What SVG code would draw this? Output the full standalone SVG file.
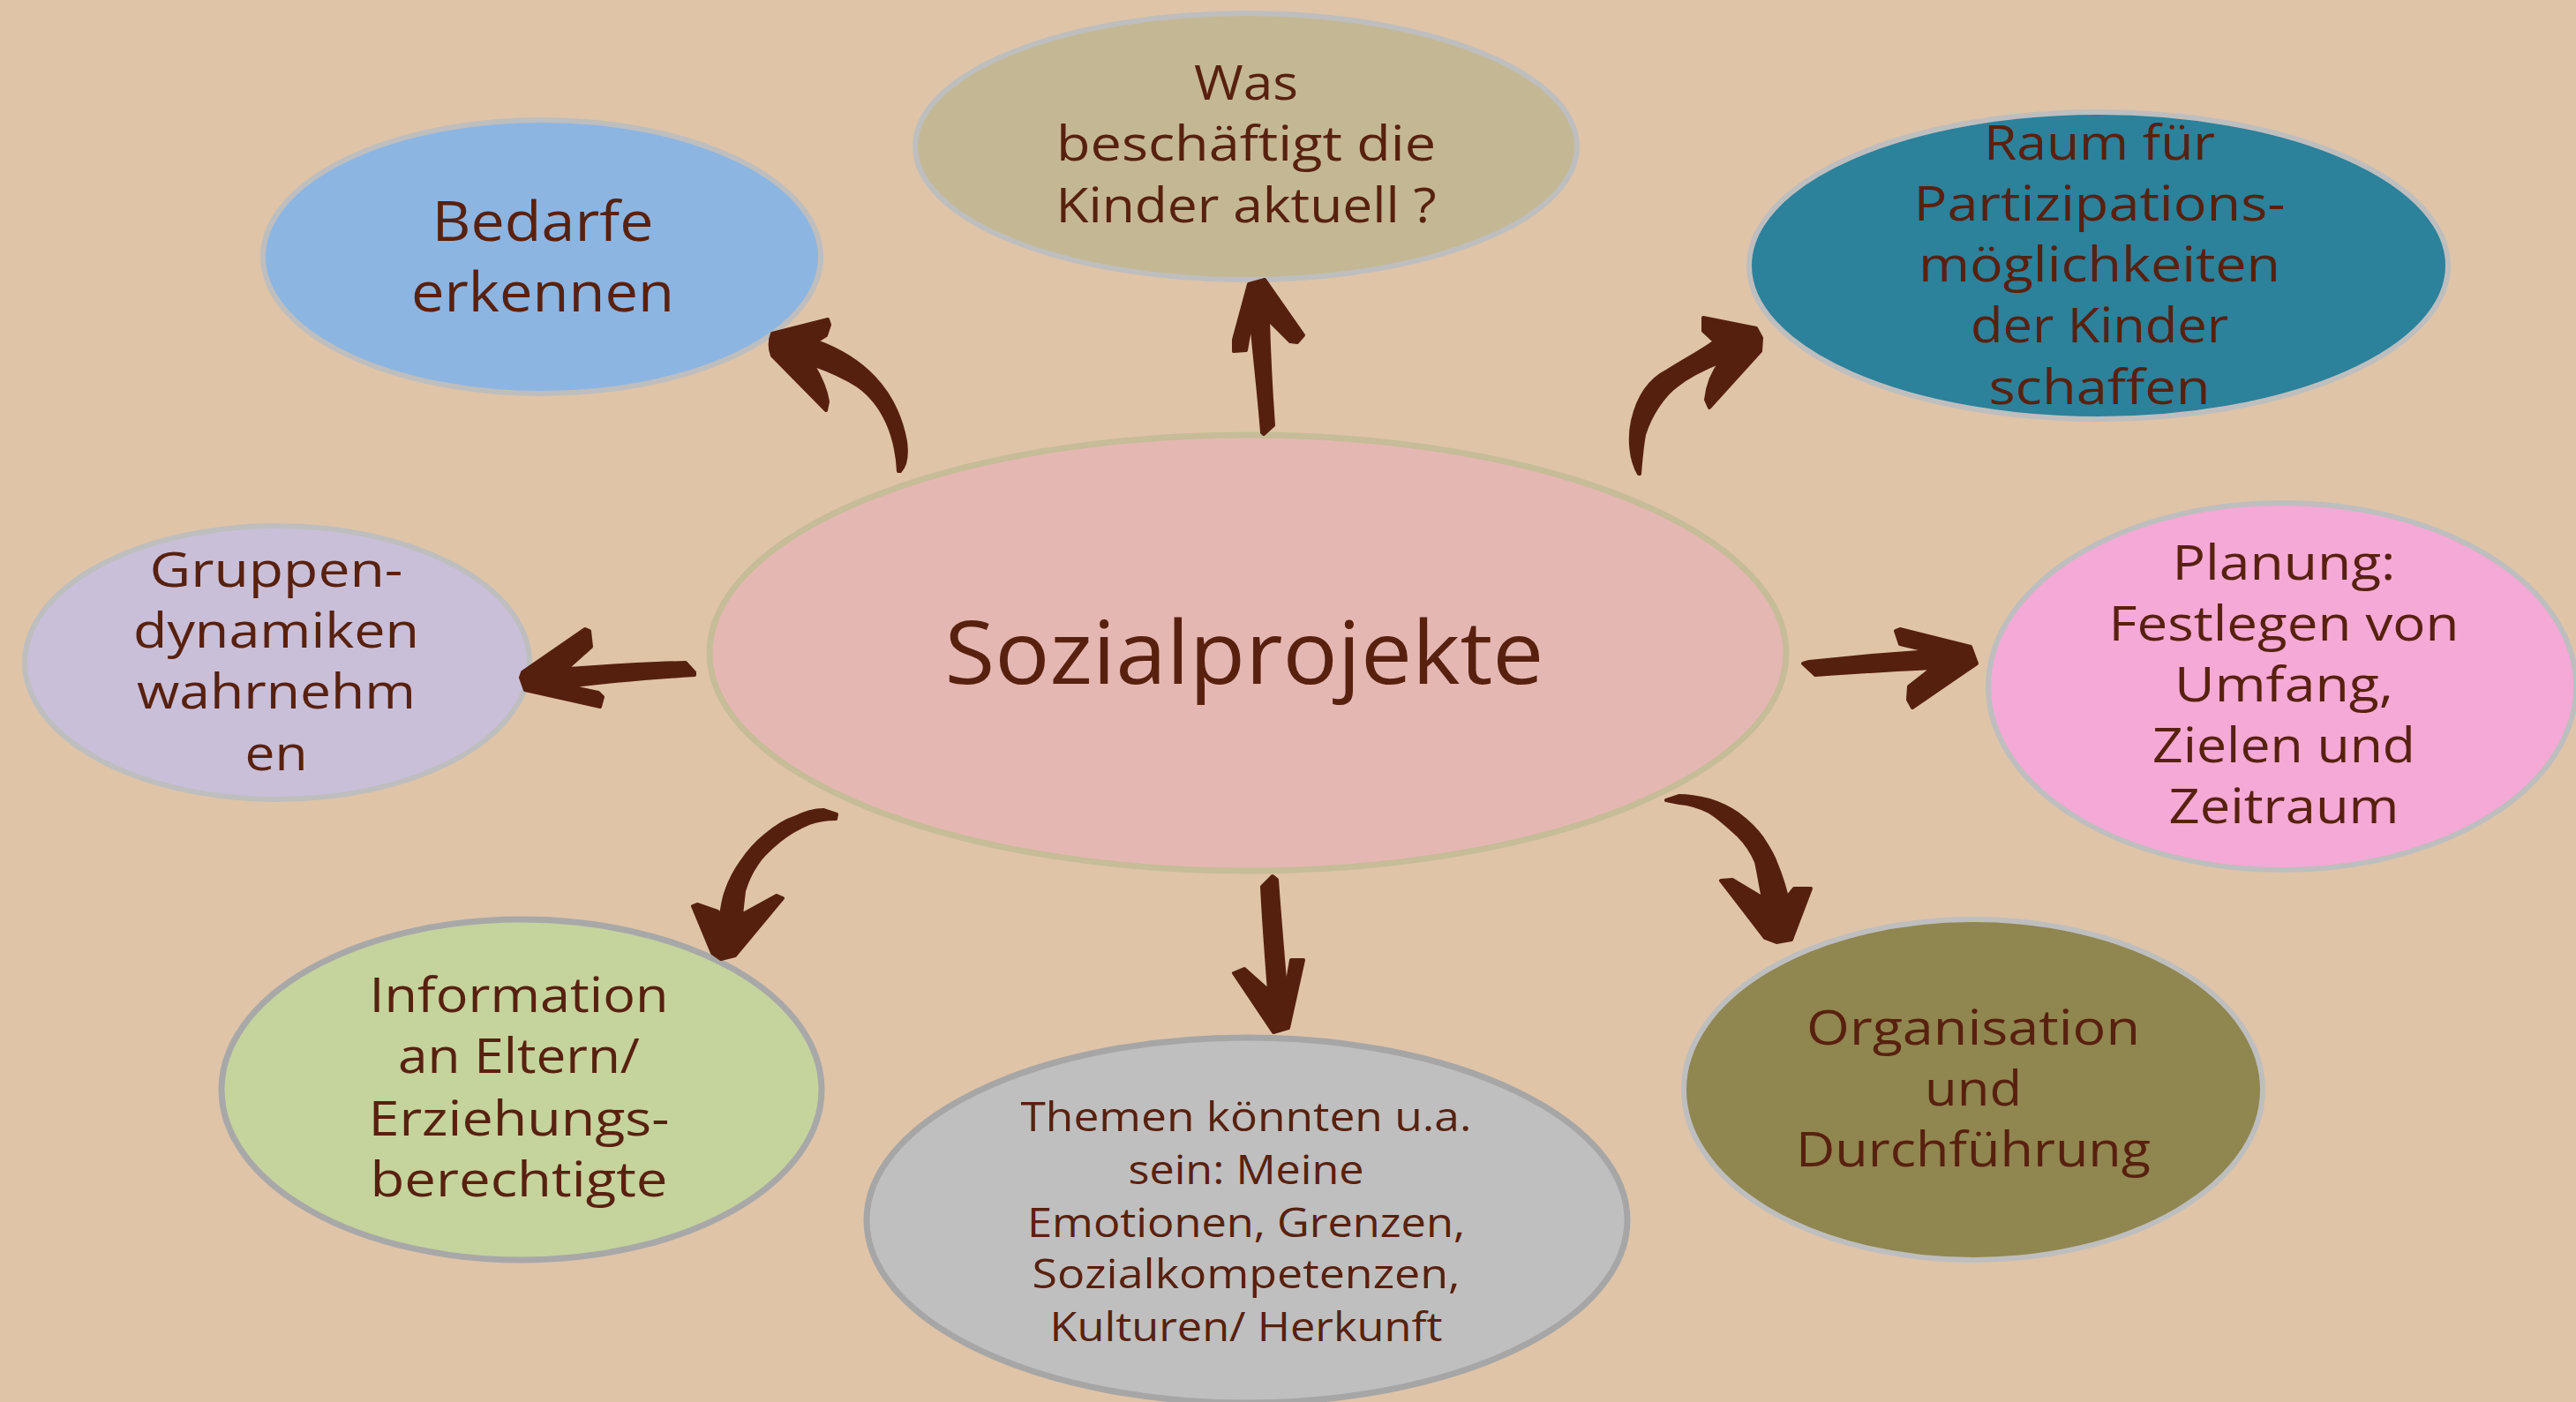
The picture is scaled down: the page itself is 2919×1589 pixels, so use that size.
<svg xmlns="http://www.w3.org/2000/svg" width="2919" height="1589" viewBox="0 0 2919 1589">
<style>
.bg{fill:#DFC4A8}
.node{stroke:#BEBEBE;stroke-width:6}
.t{font-family:"Open Sans","Liberation Sans",sans-serif;fill:#58210F;text-anchor:middle}
.arr{fill:#56200E;stroke:#56200E;stroke-width:4;stroke-linejoin:round}
</style>
<rect class="bg" x="0" y="0" width="2919" height="1589"/>

<g id="node-was">
<ellipse class="node" cx="1412" cy="166" rx="375" ry="151" fill="#C4B894"/>
<text class="t" font-size="54" x="1412" y="113" textLength="118" lengthAdjust="spacingAndGlyphs">Was</text>
<text class="t" font-size="54" x="1412" y="182" textLength="430" lengthAdjust="spacingAndGlyphs">beschäftigt die</text>
<text class="t" font-size="54" x="1412" y="252" textLength="431" lengthAdjust="spacingAndGlyphs">Kinder aktuell ?</text>
</g>

<g id="node-bedarfe">
<ellipse class="node" cx="614" cy="291" rx="316" ry="155" fill="#8CB5E2"/>
<text class="t" font-size="62" x="615" y="273" textLength="251" lengthAdjust="spacingAndGlyphs">Bedarfe</text>
<text class="t" font-size="62" x="615" y="353" textLength="298" lengthAdjust="spacingAndGlyphs">erkennen</text>
</g>

<g id="node-raum">
<ellipse class="node" cx="2378" cy="301" rx="396" ry="174" fill="#2C819B"/>
<text class="t" font-size="54" x="2379" y="181" textLength="262" lengthAdjust="spacingAndGlyphs">Raum für</text>
<text class="t" font-size="54" x="2379" y="250" textLength="421" lengthAdjust="spacingAndGlyphs">Partizipations-</text>
<text class="t" font-size="54" x="2379" y="319" textLength="410" lengthAdjust="spacingAndGlyphs">möglichkeiten</text>
<text class="t" font-size="54" x="2379" y="388" textLength="292" lengthAdjust="spacingAndGlyphs">der Kinder</text>
<text class="t" font-size="54" x="2379" y="458" textLength="251" lengthAdjust="spacingAndGlyphs">schaffen</text>
</g>

<g id="node-gruppen">
<ellipse class="node" cx="314" cy="751" rx="286" ry="155" fill="#C9BFD9"/>
<text class="t" font-size="54" x="313" y="665" textLength="287" lengthAdjust="spacingAndGlyphs">Gruppen-</text>
<text class="t" font-size="54" x="313" y="734" textLength="324" lengthAdjust="spacingAndGlyphs">dynamiken</text>
<text class="t" font-size="54" x="313" y="803" textLength="316" lengthAdjust="spacingAndGlyphs">wahrnehm</text>
<text class="t" font-size="54" x="313" y="873" textLength="71" lengthAdjust="spacingAndGlyphs">en</text>
</g>

<g id="node-center">
<ellipse cx="1414" cy="740" rx="610" ry="247" fill="#E5B7B2" stroke="#C6BC98" stroke-width="7"/>
<text class="t" font-size="98" x="1410" y="775" textLength="679" lengthAdjust="spacingAndGlyphs">Sozialprojekte</text>
</g>

<g id="node-planung">
<ellipse class="node" cx="2586" cy="778" rx="333" ry="208" fill="#F5A9D6"/>
<text class="t" font-size="54" x="2588" y="657" textLength="253" lengthAdjust="spacingAndGlyphs">Planung:</text>
<text class="t" font-size="54" x="2588" y="726" textLength="397" lengthAdjust="spacingAndGlyphs">Festlegen von</text>
<text class="t" font-size="54" x="2588" y="795" textLength="248" lengthAdjust="spacingAndGlyphs">Umfang,</text>
<text class="t" font-size="54" x="2588" y="864" textLength="298" lengthAdjust="spacingAndGlyphs">Zielen und</text>
<text class="t" font-size="54" x="2588" y="933" textLength="261" lengthAdjust="spacingAndGlyphs">Zeitraum</text>
</g>

<g id="node-information">
<ellipse cx="591" cy="1235" rx="340" ry="193" fill="#C5D39D" stroke="#A8A8A8" stroke-width="7"/>
<text class="t" font-size="54" x="588" y="1147" textLength="339" lengthAdjust="spacingAndGlyphs">Information</text>
<text class="t" font-size="54" x="588" y="1216" textLength="274" lengthAdjust="spacingAndGlyphs">an Eltern/</text>
<text class="t" font-size="54" x="588" y="1287" textLength="341" lengthAdjust="spacingAndGlyphs">Erziehungs-</text>
<text class="t" font-size="54" x="588" y="1356" textLength="337" lengthAdjust="spacingAndGlyphs">berechtigte</text>
</g>

<g id="node-themen">
<ellipse cx="1413" cy="1383" rx="431" ry="207" fill="#BFBFBF" stroke="#A6A6A6" stroke-width="7"/>
<text class="t" font-size="45" x="1412" y="1282" textLength="511" lengthAdjust="spacingAndGlyphs">Themen könnten u.a.</text>
<text class="t" font-size="45" x="1412" y="1342" textLength="267" lengthAdjust="spacingAndGlyphs">sein: Meine</text>
<text class="t" font-size="45" x="1412" y="1402" textLength="496" lengthAdjust="spacingAndGlyphs">Emotionen, Grenzen,</text>
<text class="t" font-size="45" x="1412" y="1460" textLength="485" lengthAdjust="spacingAndGlyphs">Sozialkompetenzen,</text>
<text class="t" font-size="45" x="1412" y="1520" textLength="445" lengthAdjust="spacingAndGlyphs">Kulturen/ Herkunft</text>
</g>

<g id="node-organisation">
<ellipse class="node" cx="2236" cy="1235" rx="328" ry="193" fill="#908650"/>
<text class="t" font-size="54" x="2236" y="1184" textLength="378" lengthAdjust="spacingAndGlyphs">Organisation</text>
<text class="t" font-size="54" x="2236" y="1253" textLength="110" lengthAdjust="spacingAndGlyphs">und</text>
<text class="t" font-size="54" x="2236" y="1322" textLength="402" lengthAdjust="spacingAndGlyphs">Durchführung</text>
</g>

<g id="connectors">
<!-- to Bedarfe -->
<path class="arr" d="M1018,534 C1016,495 1002,458 972,437 C955,426 935,418 921,413 C930,428 936,442 938,455 L936,465 L875,403 C872,395 872,386 875,378 L938,362 L940,368 L936,380 L925,387 C975,405 1015,440 1026,500 C1028,515 1026,528 1020,534 Z"/>
<!-- to Was -->
<path class="arr" d="M1415,322 L1433,317 L1477,380 L1470,388 L1462,387 L1437,362 C1438,400 1440,440 1443,482 L1432,492 L1430,490 C1426,440 1421,400 1418,363 L1412,397 L1398,398 L1398,385 Z"/>
<!-- to Raum -->
<path class="arr" d="M1857,537 C1847,520 1846,495 1850,477 C1856,450 1870,430 1890,420 C1905,410 1925,400 1943,387 L1930,375 L1930,360 L1990,372 L1996,383 L1995,398 L1937,462 L1933,453 C1935,435 1942,420 1950,410 C1930,418 1915,425 1900,437 C1885,448 1870,470 1863,493 C1860,510 1859,525 1858,537 Z"/>
<!-- to Gruppen -->
<path class="arr" d="M787,762 L777,751 C730,752 690,755 642,758 L670,733 L668,715 L663,713 L592,762 L590,768 L595,782 L680,801 L683,790 L678,785 L645,778 C690,772 740,768 787,765 Z"/>
<!-- to Planung -->
<path class="arr" d="M2043,752 L2050,750 C2095,745 2140,741 2187,738 L2153,730 L2148,715 L2153,713 L2233,733 L2240,752 L2167,802 L2162,793 L2163,778 L2190,757 C2145,759 2100,762 2057,765 Z"/>
<!-- to Information -->
<path class="arr" d="M948,923 L947,928 C935,928 925,930 917,933 C905,938 893,945 883,953 C872,962 863,970 857,980 C850,990 846,1000 843,1010 L840,1037 L880,1015 L887,1018 L833,1083 L817,1087 L807,1080 L785,1027 L790,1025 L813,1033 L817,1037 C819,1025 820,1017 823,1010 C828,995 833,987 840,977 C848,965 857,955 867,947 C878,938 890,930 900,927 C912,921 922,918 933,918 Z"/>
<!-- to Themen -->
<path class="arr" d="M1430,1005 L1442,993 L1447,997 C1450,1040 1454,1085 1457,1123 L1463,1088 L1477,1088 L1460,1165 L1443,1170 L1398,1103 L1410,1098 L1438,1123 C1435,1085 1432,1045 1430,1005 Z"/>
<!-- to Organisation -->
<path class="arr" d="M1888,907 L1903,902 C1915,902 1925,904 1937,907 C1950,911 1960,916 1970,923 C1982,932 1990,940 1997,950 C2005,962 2010,970 2013,980 C2018,992 2022,1005 2025,1017 L2033,1007 L2052,1007 L2030,1065 L2013,1068 L2000,1063 L1950,998 L1963,997 L1998,1018 C1995,1005 1993,990 1990,977 C1985,965 1978,955 1970,947 C1960,938 1950,928 1937,920 C1925,914 1915,911 1903,910 Z"/>
</g>
</svg>
